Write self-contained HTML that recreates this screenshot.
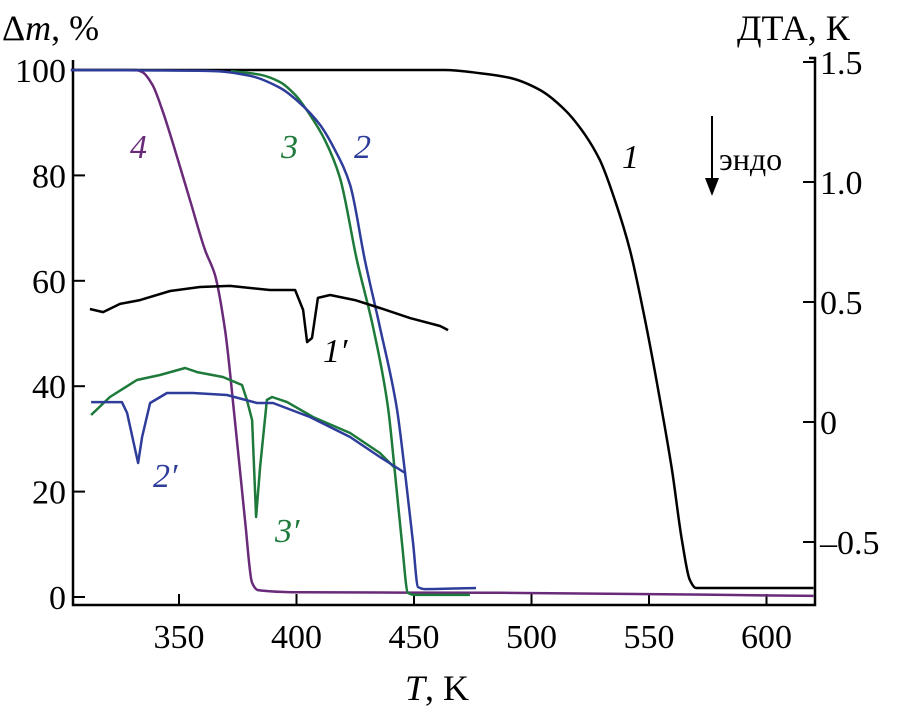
<!DOCTYPE html>
<html><head><meta charset="utf-8"><style>
html,body{margin:0;padding:0;background:#fff;}
svg{display:block;font-family:"Liberation Serif",serif;}
</style></head><body>
<svg id="chart" width="902" height="713" viewBox="0 0 902 713">
<g id="axes"></g>
<g id="series"></g>
<text x="2" y="40" font-size="36">Δ<tspan font-style="italic">m</tspan>, %</text>
<text x="737" y="40" font-size="36">ДТА, К</text>
<text x="405" y="700" font-size="36"><tspan font-style="italic">T</tspan>, K</text>
<g>
<line x1="712" y1="116" x2="712" y2="182" stroke="#000" stroke-width="2"/>
<polygon points="705,178 719,178 712,196" fill="#000"/>
<text x="719" y="170" font-size="32">эндо</text>
</g>
<g font-style="italic" font-size="34">
<text x="130" y="158" fill="#6a2a7a">4</text>
<text x="281" y="158" fill="#1d7a3a">3</text>
<text x="354" y="158" fill="#2e3d9a">2</text>
<text x="622" y="168" fill="#000">1</text>
<text x="323" y="362" fill="#000">1′</text>
<text x="153" y="487" fill="#2e3d9a">2′</text>
<text x="275" y="542" fill="#1d7a3a">3′</text>
</g>
</svg>
<script>
const xTicks=[350,400,450,500,550,600];
const yLeftTicks=[0,20,40,60,80,100];
const yRightTicks=[-0.5,0,0.5,1.0,1.5];
const yRightLabels=["–0.5","0","0.5","1.0","1.5"];
// TG curves (T, %)
const t1=[304,463.2,478.1,490.9,503.6,514.3,522.8,529.1,535.5,541.9,548.3,554.7,559.8,564.0,567.4,570.0,620];
const m1=[100,100,99.4,98.5,96.2,92.4,87.7,82.9,75.3,65.8,52.6,37.4,24.1,10.8,3.2,1.7,1.7];
const t2=[304,364.9,380.2,393.0,401.5,410.0,416.4,422.8,429.1,435.5,442.8,446.2,449.6,451.7,454.7,476.4];
const m2=[100,99.8,98.9,96.6,93.7,89.6,84.8,78.2,63.9,51.2,35.5,23.5,10.2,1.9,1.5,1.7];
const t3=[372.1,384.5,393.0,399.4,405.7,412.1,418.5,425.7,432.6,438.9,441.9,444.9,447.4,450.4,473.8];
const m3=[99.8,99.1,97.7,95.3,91.5,86.7,79.5,63.9,51.2,36.1,23.5,10.2,0.8,0.4,0.4];
const t4=[304,331.5,334.4,338.7,342.9,348.3,354.7,361.1,365.3,369.6,373.8,378.1,381.1,383.6,401.5,486.6,620];
const m4=[100,100,99.6,97.2,92.4,84.8,75.3,65.8,61.1,50.6,33.5,14.6,2.7,1.3,0.9,0.8,0.2];
// DTA curves (T, K)
const td1=[312.1,317.7,324.9,333.4,346.2,358.9,371.7,388.7,399.4,402.8,404.5,406.6,409.1,414.3,424.9,435.5,448.3,461.1,464.5];
const d1=[0.471,0.458,0.492,0.508,0.546,0.5625,0.567,0.55,0.55,0.467,0.333,0.35,0.517,0.529,0.508,0.475,0.433,0.4,0.383];
const td2=[312.6,325.7,327.9,332.6,334.3,337.7,344.9,356.0,370.4,383.2,390.0,405.7,422.8,435.5,446.2];
const d2=[0.083,0.083,0.0375,-0.171,-0.0625,0.079,0.121,0.121,0.1125,0.079,0.079,0.021,-0.0625,-0.146,-0.2125];
const td3=[312.6,320.6,332.1,341.9,352.6,357.7,368.7,376.8,378.9,381.1,382.8,384.5,387.4,389.6,396.0,407.0,422.8,435.5,441.9];
const d3=[0.029,0.104,0.175,0.196,0.225,0.208,0.1875,0.154,0.092,0.008,-0.396,-0.1875,0.092,0.104,0.083,0.021,-0.046,-0.129,-0.192];

const X0=73,X1=815,Y0=605;
const xs=T=>179+(T-350)*2.35;
const yl=p=>597-p*5.27;
const yr=v=>422-v*240;
const NS="http://www.w3.org/2000/svg";
function mk(tag,attrs,parent){const e=document.createElementNS(NS,tag);for(const k in attrs)e.setAttribute(k,attrs[k]);parent.appendChild(e);return e;}
const ax=document.getElementById('axes');
let e=mk('path',{d:`M${X0},60 V${Y0} H${X1} V58 h-6`,fill:'none',stroke:'#000','stroke-width':2.5},ax);


xTicks.forEach(t=>{const x=xs(t);
 let l=mk('line',{x1:x,x2:x,y1:Y0,y2:Y0-11,stroke:'#000','stroke-width':2},ax);
 
 
 let tx=mk('text',{x:x,y:Y0+43,'font-size':34,'text-anchor':'middle'},ax);tx.textContent=t;
 
 });
yLeftTicks.forEach(v=>{const y=yl(v);
 let l=mk('line',{x1:X0,x2:X0+12,y1:y,y2:y,stroke:'#000','stroke-width':2},ax);
 
 
 let tx=mk('text',{x:X0-7,y:y+12,'font-size':34,'text-anchor':'end'},ax);tx.textContent=v;
 
 });
yRightTicks.forEach((v,i)=>{const y=yr(v);
 let l=mk('line',{x1:X1,x2:X1-12,y1:y,y2:y,stroke:'#000','stroke-width':2},ax);
 
 
 let tx=mk('text',{x:X1+5,y:y+12,'font-size':34},ax);tx.textContent=yRightLabels[i];
 
 });
const sg=document.getElementById('series');
function pathD(P,smooth){
 if(!smooth) return P.map((p,i)=>(i?'L':'M')+p[0].toFixed(1)+','+p[1].toFixed(1)).join(' ');
 // monotone cubic (Fritsch-Carlson) in x
 const n=P.length,dx=[],s=[],m=new Array(n);
 for(let i=0;i<n-1;i++){dx[i]=P[i+1][0]-P[i][0];s[i]=(P[i+1][1]-P[i][1])/dx[i];}
 m[0]=s[0];m[n-1]=s[n-2];
 for(let i=1;i<n-1;i++){m[i]=(s[i-1]*s[i]<=0)?0:3*(dx[i-1]+dx[i])/((2*dx[i]+dx[i-1])/s[i-1]+(dx[i]+2*dx[i-1])/s[i]);}
 for(let i=0;i<n-1;i++){if(s[i]===0){m[i]=0;m[i+1]=0;}}
 let d='M'+P[0][0].toFixed(1)+','+P[0][1].toFixed(1);
 for(let i=0;i<n-1;i++){const h=dx[i]/3;
  d+=` C${(P[i][0]+h).toFixed(1)},${(P[i][1]+m[i]*h).toFixed(1)} ${(P[i+1][0]-h).toFixed(1)},${(P[i+1][1]-m[i+1]*h).toFixed(1)} ${P[i+1][0].toFixed(1)},${P[i+1][1].toFixed(1)}`;}
 return d;}
function line(T,V,yf,col,name,smooth){const P=T.map((t,i)=>[xs(t),yf(V[i])]);
 const p=mk('path',{d:pathD(P,smooth),fill:'none',stroke:col,'stroke-width':2.5,'stroke-linejoin':'round'},sg);
 
 }
line(t4,m4,yl,'#6a2a7a','tg-curve-4',true);
line(t1,m1,yl,'#000','tg-curve-1',true);
line(t3,m3,yl,'#1d7a3a','tg-curve-3',true);
line(t2,m2,yl,'#2e3d9a','tg-curve-2',true);
line(td1,d1,yr,'#000','dta-curve-1prime',false);
line(td3,d3,yr,'#1d7a3a','dta-curve-3prime',false);
line(td2,d2,yr,'#2e3d9a','dta-curve-2prime',false);
</script>
</body></html>
